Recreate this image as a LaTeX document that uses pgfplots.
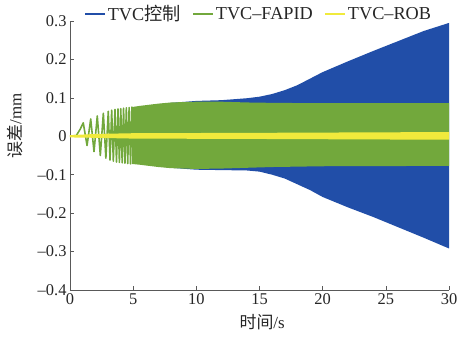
\documentclass[border=0pt]{standalone}
\usepackage{pgfplots}
\pgfplotsset{compat=1.18}
\usepackage{fontspec}
\setmainfont{Liberation Serif}
\newfontfamily\cjk{Noto Sans CJK SC}
\definecolor{cblue}{RGB}{33,78,168}
\definecolor{cgreen}{RGB}{114,168,60}
\definecolor{cyellow}{RGB}{240,234,60}
\begin{document}
\begin{tikzpicture}
\begin{axis}[
  scale only axis, width=379bp, height=269bp,
  xmin=0, xmax=30, ymin=-0.4, ymax=0.3,
  axis lines=left,
  axis line style={-, draw=black!65, line width=0.6pt},
  tick align=inside, major tick length=4bp,
  tick style={draw=black!65, line width=0.6pt},
  xtick={0,5,10,15,20,25,30},
  xticklabels={0,5,10,15,20,25,30},
  ytick={-0.4,-0.3,-0.2,-0.1,0,0.1,0.2,0.3},
  yticklabels={–0.4,–0.3,–0.2,–0.1,0,0.1,0.2,0.3},
  ticklabel style={font=\fontsize{16.5}{18}\selectfont, text=black!85},
  xlabel={{\cjk 时间}/s},
  ylabel={{\cjk 误差}/mm},
  label style={font=\fontsize{17}{19}\selectfont, text=black!85},
  xlabel style={at={(axis description cs:0.507,-0.119)}, anchor=center},
  ylabel style={at={(axis description cs:-0.145,0.61)}, anchor=center, rotate=0},
  legend columns=3,
  legend style={at={(axis description cs:0.038,1.026)}, anchor=west, draw=none, fill=none,
    font=\fontsize{18.3}{20}\selectfont, text=black!85, inner sep=0pt,
    /tikz/every even column/.append style={column sep=10bp}},
  legend image code/.code={\draw[#1, line width=1.2pt] (0bp,0bp) -- (20bp,0bp);},
  clip=true,
]
\addlegendimage{cblue}
\addlegendentry{TVC{\cjk 控制}}
\addlegendimage{cgreen}
\addlegendentry{TVC–FAPID}
\addlegendimage{cyellow}
\addlegendentry{TVC–ROB}
% TVC control envelope
\addplot[fill=cblue, draw=none, forget plot] coordinates {
 (6,0.079) (8,0.087) (10,0.092) (12,0.094) (14,0.099) (15,0.103) (16,0.110) (17,0.120)
 (18,0.133) (19,0.150) (20,0.167) (22,0.195) (24,0.222) (26,0.248) (28,0.274) (30,0.295)
 (30,-0.292) (28,-0.264) (26,-0.237) (24,-0.210) (22,-0.185) (20,-0.158) (19,-0.140)
 (18,-0.125) (17,-0.110) (16,-0.100) (15,-0.092) (14,-0.089) (12,-0.088) (10,-0.087)
 (8,-0.082) (6,-0.074)
};
% TVC-FAPID early oscillation
\addplot[cgreen, line width=1.6pt, line join=round, forget plot] coordinates {
 (0,0) (0.5,0.002) (0.8,0.018) (1.05,0.035) (1.35,-0.024) (1.64,0.045) (1.9,-0.040)
 (2.16,0.053) (2.4,-0.050) (2.64,0.060) (2.84,-0.057) (3.03,0.065) (3.17,-0.062)
 (3.3,0.068) (3.43,-0.065) (3.56,0.070) (3.68,-0.067) (3.8,0.071) (3.91,-0.068)
 (4.02,0.072) (4.13,-0.069) (4.24,0.073) (4.35,-0.070) (4.46,0.074) (4.57,-0.071)
 (4.68,0.075) (4.79,-0.072) (4.9,0.076) (5.0,-0.072)
};
% TVC-FAPID envelope
\addplot[fill=cgreen, draw=none, forget plot] coordinates {
 (4.9,0.076) (5.5,0.079) (6,0.081) (7,0.085) (8,0.088) (10,0.090) (12,0.090) (14,0.088)
 (16,0.087) (20,0.086) (30,0.086)
 (30,-0.077) (20,-0.078) (16,-0.080) (14,-0.082) (12,-0.084) (10,-0.085) (8,-0.083)
 (7,-0.080) (6,-0.076) (5.5,-0.074) (4.9,-0.072)
};
% TVC-ROB envelope
\addplot[fill=cyellow, draw=none, forget plot] coordinates {
 (0,0.003) (2,0.006) (5,0.008) (15,0.009) (30,0.011)
 (30,-0.009) (15,-0.007) (5,-0.006) (2,-0.004) (0,-0.003)
};
\coordinate (sw) at (rel axis cs:0,0);
\coordinate (ne) at (rel axis cs:1,1);
\end{axis}
\pgfresetboundingbox
\path[use as bounding box] ([shift={(-70bp,-47bp)}]sw) rectangle ([shift={(11bp,21bp)}]ne);
\end{tikzpicture}
\end{document}
